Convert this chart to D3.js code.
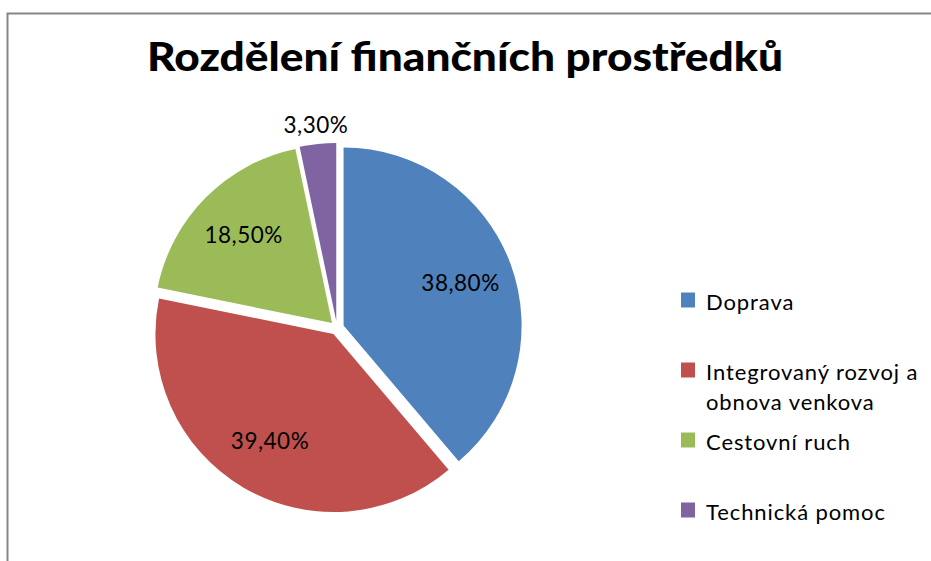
<!DOCTYPE html>
<html>
<head>
<meta charset="utf-8">
<script src="https://cdn.jsdelivr.net/npm/d3@7"></script>
<style>
  body { margin: 0; background: white; }
  svg { display: block; }
</style>
</head>
<body>
<div id="chart"></div>
<script>
"use strict"

const title = "Rozdělení finančních prostředků";
const categories = ["Doprava", "Integrovaný rozvoj a obnova venkova", "Cestovní ruch", "Technická pomoc"];
const shares = [38.8, 39.4, 18.5, 3.3];
const colors = ["#4F81BD", "#C0504D", "#9BBB59", "#8064A2"];

const W = 931, H = 561;
const cx = 337, cy = 328, r = 178;
const explode = 7;
const font = "Lato, 'Open Sans', sans-serif";

let fmt = (v) => d3.format(".2f")(v).replace(".", ",") + "%";

let svg = (
  d3.select("#chart")
    .append("svg")
    .attr("width", W)
    .attr("height", H));

// Chart frame (only top and left edges fall inside the picture)
(svg.append("rect")
  .attr("x", 7.5)
  .attr("y", 13.5)
  .attr("width", W + 20)
  .attr("height", H + 20)
  .attr("fill", "white")
  .attr("stroke", "#868686")
  .attr("stroke-width", 2));

// Title
(svg.append("text")
  .attr("x", 465)
  .attr("y", 71)
  .attr("text-anchor", "middle")
  .attr("style", `font: 900 40px ${font}; fill: black`)
  .attr("textLength", 636)
  .attr("lengthAdjust", "spacingAndGlyphs")
  .text(title));

// Pie
let pie = d3.pie().sort(null).value((d) => d.value);
let data = pie(categories.map((c, i) => ({name: c, value: shares[i], color: colors[i]})));
let arc = d3.arc().innerRadius(0).outerRadius(r);
let mid = (d) => (d.startAngle + d.endAngle) / 2;
let dir = (a, dist) => [dist * Math.sin(a), -dist * Math.cos(a)];

let g = svg.append("g").attr("transform", `translate(${cx},${cy})`);

(g.selectAll("path")
    .data(data)
  .enter()
    .append("path")
      .attr("d", arc)
      .attr("fill", (d) => d.data.color)
      .attr("transform", (d) => `translate(${dir(mid(d), explode)})`));

// Data labels: inside for large slices, outside for the small one
(g.selectAll("text.lbl")
    .data(data)
  .enter()
    .append("text")
      .attr("class", "lbl")
      .attr("style", `font: 22.5px ${font}; fill: black; letter-spacing: 0.5px`)
      .attr("text-anchor", "middle")
      .attr("dy", "0.36em")
      .attr("transform", (d) => {
        let inside = (d.endAngle - d.startAngle) > 0.3;
        let p = dir(mid(d), inside ? r * 0.7 + explode : r + 26);
        return `translate(${p})`;
      })
      .text((d) => fmt(d.data.value)));

// Legend
let lx = 681, ly = 300, step = 70, maxW = 222;
let leg = (svg.selectAll("g.leg")
    .data(data)
  .enter()
    .append("g")
      .attr("class", "leg")
      .attr("transform", (d, i) => `translate(${lx},${ly + i * step})`));

(leg.append("rect")
  .attr("x", 0)
  .attr("y", -7.5)
  .attr("width", 14)
  .attr("height", 15)
  .attr("fill", (d) => d.data.color));

leg.each(function(d) {
  let txt = (d3.select(this).append("text")
    .attr("x", 25)
    .attr("y", 10)
    .attr("style", `font: 22px ${font}; fill: black; letter-spacing: 0.9px`));
  let words = d.data.name.split(" ");
  let line = [];
  let lineNo = 0;
  let ts = txt.append("tspan").attr("x", 25).attr("y", 10);
  for (let w of words) {
    line.push(w);
    ts.text(line.join(" "));
    if (ts.node().getComputedTextLength() > maxW && line.length > 1) {
      line.pop();
      ts.text(line.join(" "));
      line = [w];
      lineNo++;
      ts = txt.append("tspan").attr("x", 25).attr("y", 10 + lineNo * 30).text(w);
    }
  }
});
</script>
</body>
</html>
